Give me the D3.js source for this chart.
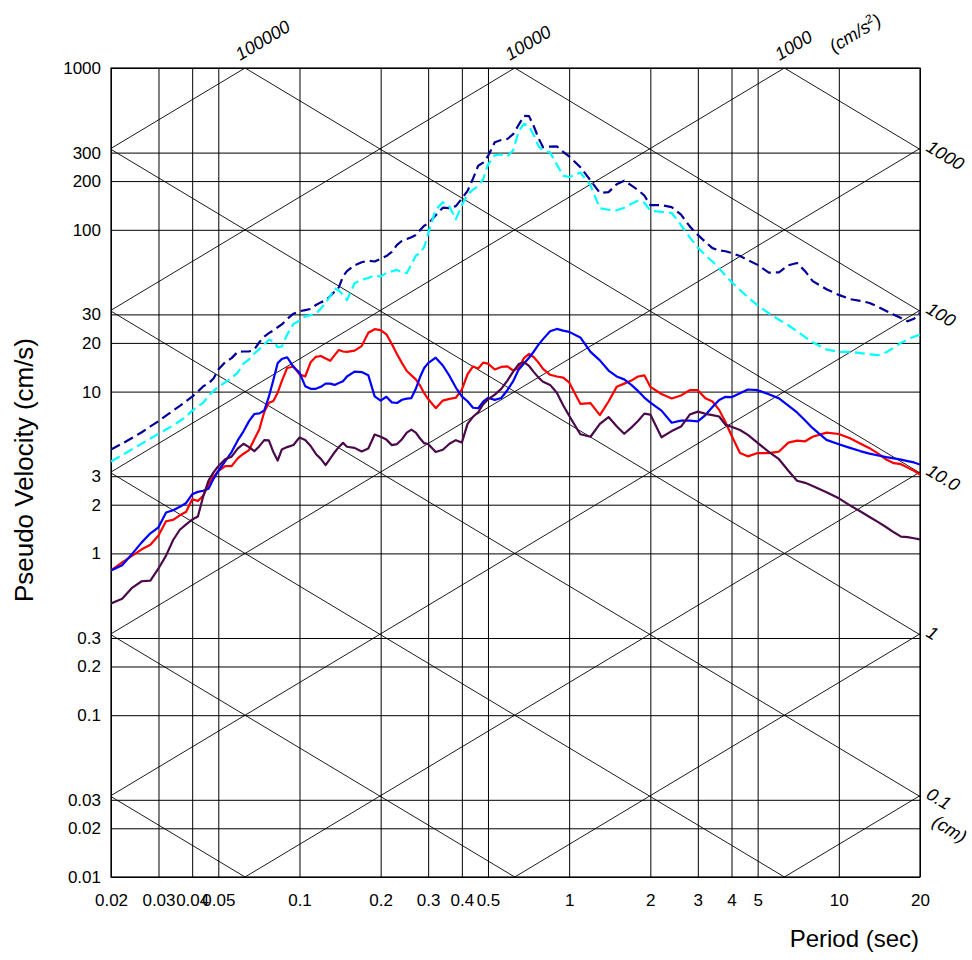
<!DOCTYPE html>
<html>
<head>
<meta charset="utf-8">
<script src="https://cdnjs.cloudflare.com/ajax/libs/d3/7.8.5/d3.min.js"></script>
<style>
body{margin:0;background:#fff;}
svg text{font-family:"Liberation Sans",Arial,sans-serif;fill:#000;}
</style>
</head>
<body>
<div id="chart"></div>
<script>
// periods (sec) shared by every spectrum
let periods=[0.02,0.022,0.024,0.026,0.028,0.03,0.032,0.034,0.036,0.038,0.04,0.042,0.044,0.046,0.048,0.05,
0.053,0.056,0.059,0.062,0.065,0.068,0.071,0.074,0.077,0.08,0.083,0.086,0.09,0.095,0.1,
0.105,0.11,0.115,0.12,0.125,0.13,0.135,0.14,0.145,0.15,0.16,0.17,0.18,0.19,0.2,
0.21,0.22,0.23,0.24,0.25,0.26,0.27,0.28,0.29,0.3,0.32,0.34,0.36,0.38,0.4,0.42,0.44,0.46,0.48,0.5,
0.53,0.56,0.59,0.62,0.65,0.68,0.71,0.74,0.77,0.8,0.85,0.9,0.95,1.0,
1.1,1.2,1.3,1.4,1.5,1.6,1.7,1.8,1.9,2.0,2.2,2.4,2.6,2.8,3.0,3.2,3.4,3.6,3.8,4.0,
4.3,4.6,5.0,5.5,6.0,6.5,7.0,7.5,8.0,9.0,10,11,12,13,14,15,16,17,18,19,20];

// pseudo velocity (cm/s)
let navyDash=[4.39,4.77,5.18,5.61,6.09,6.57,7.10,7.62,8.16,8.74,
9.31,10.0,10.8,11.25,12.05,13.7,15.2,16.1,17.6,17.7,
17.7,18.2,20.2,21.9,23.0,23.9,25.0,26.0,28.1,30.3,
31.4,31.9,32.4,34.3,35.6,36.6,39.0,41.5,44.2,51.5,
55.6,60.3,63.0,64.4,63.7,66.2,68.8,73.1,80.7,85.6,
87.6,90.0,92.8,99.6,106,109,123,137,136,140,
156,174,207,249,260,285,348,359,364,390,
446,506,504,435,368,324,327,328,303,284,
244,202,169,171,191,201,188,176,163,142,
142,138,124,105,93.0,84.1,77.0,74.6,73.7,72.0,
68.8,65.1,60.7,54.4,54.6,60.4,62.3,55.5,48.2,42.9,
39.6,37.3,36.4,35.3,33.4,31.5,29.9,28.5,27.2,28.2,30.7];

let cyanDash=[3.70,4.05,4.41,4.77,5.13,5.48,5.83,6.18,6.58,7.01,
7.63,8.10,8.56,9.41,10.1,10.7,11.4,12.15,13.1,14.9,
15.8,17.2,18.3,19.6,20.9,20.5,18.8,19.0,22.5,26.2,
27.4,29.2,29.7,30.2,32.6,35.4,39.0,43.5,42.1,39.7,
36.8,46.7,49.1,50.4,52.4,51.3,54.1,55.4,56.5,54.5,
54.0,61.1,69.1,72.0,78.3,95.0,133,148,139,116,
142,165,177,186,206,253,289,292,284,310,
406,452,436,383,329,309,301,253,216,212,
226,188,136,133,132,137,145,151,147,131,
129,127,107,89.8,77.7,69.6,63.7,57.7,52.2,47.6,
42.5,38.3,34.1,30.5,27.8,25.7,23.6,21.7,20.2,18.2,
17.6,17.6,17.3,17.0,16.8,17.5,18.7,20.0,21.0,21.8,22.5];

let redLine=[0.785,0.880,0.969,1.06,1.13,1.29,1.58,1.61,1.72,1.81,
2.16,2.11,2.28,2.68,2.98,3.23,3.46,3.46,3.87,4.13,
4.35,5.08,5.86,7.48,8.54,8.76,9.84,11.6,14.0,14.3,
12.8,12.4,15.2,16.4,16.6,16.0,15.5,16.8,18.1,17.7,
17.6,17.9,19.1,23.1,24.3,24.0,22.6,19.7,17.0,15.0,
13.4,12.6,11.9,10.9,9.77,9.00,7.90,8.80,9.01,9.16,
10.3,12.8,14.3,13.9,15.1,14.9,13.7,14.2,14.3,13.5,
14.0,16.1,17.1,16.3,15.1,13.8,12.7,12.4,12.2,11.4,
8.40,8.49,7.15,8.69,10.7,11.2,11.7,12.4,12.6,10.7,
9.67,9.07,9.47,10.2,10.2,9.09,8.68,7.71,6.46,5.35,
4.17,3.98,4.17,4.17,4.26,4.84,4.98,4.93,5.26,5.58,
5.47,5.15,4.78,4.47,4.14,3.80,3.61,3.56,3.39,3.24,3.07];

let blueLine=[0.785,0.846,0.997,1.17,1.33,1.45,1.79,1.85,1.94,2.05,
2.32,2.40,2.44,2.51,2.89,3.23,3.70,4.23,4.99,5.68,
6.57,7.27,7.34,7.64,9.30,11.8,15.0,15.9,16.3,14.2,
13.1,10.8,10.4,10.4,10.7,11.2,11.2,11.0,11.3,11.6,
12.4,13.3,13.2,12.6,9.35,8.80,9.29,8.58,8.50,8.90,
9.04,9.12,10.4,12.3,14.0,15.0,16.2,14.5,12.5,10.6,
9.35,8.72,7.95,7.89,8.66,9.16,8.89,9.13,10.2,11.6,
13.7,14.9,16.2,17.7,19.5,21.1,23.6,24.4,23.8,23.4,
21.6,17.6,15.6,13.5,12.4,11.9,11.0,10.1,9.18,8.55,
7.63,6.42,6.62,6.62,6.54,7.16,8.02,8.87,9.28,9.24,
9.77,10.3,10.2,9.64,9.08,8.18,7.43,6.62,5.94,5.03,
4.73,4.49,4.29,4.14,4.03,3.94,3.87,3.80,3.72,3.65,3.54];

let purpleLine=[0.491,0.525,0.615,0.673,0.679,0.807,0.969,1.21,1.40,1.51,
1.62,1.69,2.27,2.82,3.17,3.46,3.82,3.96,4.44,4.76,
4.54,4.28,4.60,5.01,5.00,4.23,3.75,4.39,4.54,4.68,
5.21,5.02,4.61,4.12,3.84,3.51,3.85,4.22,4.55,4.82,
4.56,4.49,4.27,4.45,5.43,5.26,5.05,4.67,4.74,5.08,
5.58,5.82,5.58,5.13,4.80,4.74,4.23,4.37,4.76,5.01,
4.84,6.32,6.99,7.45,8.36,8.94,9.57,10.4,11.7,13.3,
14.8,15.2,14.4,13.2,12.2,11.5,11.0,9.84,8.23,7.09,
5.45,5.26,6.31,6.96,6.10,5.49,5.99,6.58,7.31,7.21,
5.22,5.70,6.08,7.21,7.52,7.29,7.15,7.02,6.23,6.06,
5.79,5.40,4.82,4.24,3.82,3.24,2.81,2.73,2.61,2.39,
2.19,1.98,1.82,1.68,1.56,1.45,1.35,1.27,1.26,1.24,1.22];

let xTicks=[0.02,0.03,0.04,0.05,0.1,0.2,0.3,0.4,0.5,1,2,3,4,5,10,20];
let xTickLabels=["0.02","0.03","0.04","0.05","0.1","0.2","0.3","0.4","0.5","1","2","3","4","5","10","20"];
let yTicks=[0.01,0.02,0.03,0.1,0.2,0.3,1,2,3,10,20,30,100,200,300,1000];
let yTickLabels=["0.01","0.02","0.03","0.1","0.2","0.3","1","2","3","10","20","30","100","200","300","1000"];
// tripartite diagonals: acceleration (cm/s2) and displacement (cm)
let accelLines=[1e-3,1e-2,1e-1,1,10,100,1000,10000,100000,1000000];
let dispLines=[1e-5,1e-4,1e-3,1e-2,1e-1,1,10,100,1000,10000];
let accelLabels=[100000,10000,1000];
let accelLabelText=["100000","10000","1000"];
let dispLabels=[1000,100,10,1,0.1];
let dispLabelText=["1000","100","10.0","1","0.1"];

let width=972, height=960;
let pLeft=111, pRight=920, pTop=68, pBottom=877;
let angle=31;

let chart=d3.select("#chart")
.append("svg")
.attr("width",width)
.attr("height",height);

let xscale=d3.scaleLog().domain([0.02,20]).range([pLeft,pRight]);
let yscale=d3.scaleLog().domain([0.01,1000]).range([pBottom,pTop]);

chart.append("clipPath").attr("id","plotclip")
.append("rect")
.attr("x",pLeft).attr("y",pTop)
.attr("width",pRight-pLeft).attr("height",pBottom-pTop);

// grid + tick labels
let xAxis=d3.axisBottom(xscale).tickValues(xTicks)
.tickSize(-(pBottom-pTop)).tickPadding(17)
.tickFormat(function(d,i){return xTickLabels[i];});
let yAxis=d3.axisLeft(yscale).tickValues(yTicks)
.tickSize(-(pRight-pLeft)).tickPadding(10)
.tickFormat(function(d,i){return yTickLabels[i];});

let gx=chart.append("g").attr("class","xaxis")
.attr("transform","translate(0,"+pBottom+")")
.call(xAxis);
let gy=chart.append("g").attr("class","yaxis")
.attr("transform","translate("+pLeft+",0)")
.call(yAxis);
[gx,gy].forEach(function(g){
  g.select(".domain").remove();
  g.selectAll("line").attr("stroke","#000").attr("stroke-width",1);
  g.selectAll("text").attr("font-size",17).attr("font-family","Liberation Sans, Arial, sans-serif").attr("fill","#000");
});

// diagonal lines
let diag=chart.append("g").attr("clip-path","url(#plotclip)");
accelLines.forEach(function(a){
  let t0=0.02, t1=20;
  diag.append("line")
  .attr("x1",xscale(t0)).attr("y1",yscale(a*t0/(2*Math.PI)))
  .attr("x2",xscale(t1)).attr("y2",yscale(a*t1/(2*Math.PI)))
  .attr("stroke","#000").attr("stroke-width",0.9);
});
dispLines.forEach(function(dd){
  let t0=0.02, t1=20;
  diag.append("line")
  .attr("x1",xscale(t0)).attr("y1",yscale(2*Math.PI*dd/t0))
  .attr("x2",xscale(t1)).attr("y2",yscale(2*Math.PI*dd/t1))
  .attr("stroke","#000").attr("stroke-width",0.9);
});

// frame
chart.append("rect")
.attr("x",pLeft).attr("y",pTop)
.attr("width",pRight-pLeft).attr("height",pBottom-pTop)
.attr("fill","none").attr("stroke","#000").attr("stroke-width",1.2);

// spectra
let line=d3.line()
.x(function(d,i){return xscale(periods[i]);})
.y(function(d){return yscale(d);});

let series=[
  {data:navyDash, color:"#000099", dash:"10,5"},
  {data:cyanDash, color:"#00ffff", dash:"10,5"},
  {data:redLine, color:"#ff0000", dash:null},
  {data:blueLine, color:"#0000ff", dash:null},
  {data:purpleLine, color:"#4a0a4a", dash:null}
];
let plot=chart.append("g").attr("clip-path","url(#plotclip)");
series.forEach(function(s){
  plot.append("path")
  .datum(s.data)
  .attr("d",line)
  .attr("fill","none")
  .attr("stroke",s.color)
  .attr("stroke-width",2.2)
  .attr("stroke-linejoin","round")
  .attr("stroke-dasharray",s.dash);
});

// acceleration labels on top
accelLabels.forEach(function(a,i){
  let xc=xscale(2*Math.PI*1000/a);
  chart.append("text")
  .attr("transform","translate("+(xc-5)+","+(pTop-7)+") rotate(-"+angle+")")
  .attr("font-size",18).attr("font-style","italic")
  .text(accelLabelText[i]);
});
let unitA=chart.append("text")
.attr("transform","translate(834,"+(pTop-15)+") rotate(-"+angle+")")
.attr("font-size",18).attr("font-style","italic");
unitA.append("tspan").text("(cm/s");
unitA.append("tspan").attr("dy",-7).attr("font-size",12).text("2");
unitA.append("tspan").attr("dy",7).text(")");

// displacement labels on the right
dispLabels.forEach(function(dd,i){
  let yc=yscale(2*Math.PI*dd/20);
  chart.append("text")
  .attr("transform","translate("+(pRight+5)+","+(yc+1)+") rotate("+angle+")")
  .attr("font-size",18).attr("font-style","italic")
  .text(dispLabelText[i]);
});
chart.append("text")
.attr("transform","translate(931,825) rotate("+angle+")")
.attr("font-size",18).attr("font-style","italic")
.text("(cm)");

// axis titles
chart.append("text")
.attr("transform","translate(33,470) rotate(-90)")
.attr("text-anchor","middle")
.attr("font-size",25)
.attr("textLength",264).attr("lengthAdjust","spacingAndGlyphs")
.text("Pseudo Velocity (cm/s)");

chart.append("text")
.attr("x",919).attr("y",947)
.attr("text-anchor","end")
.attr("font-size",24)
.text("Period (sec)");
</script>
</body>
</html>
